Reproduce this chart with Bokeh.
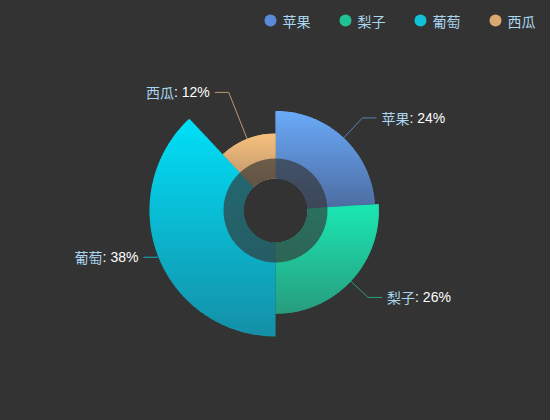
import math
import numpy as np
from bokeh.plotting import figure
from bokeh.models import Range1d
from bokeh.core.properties import value
from bokeh.embed import file_html
from bokeh.resources import INLINE

# ---- data ----
names = ["苹果", "梨子", "葡萄", "西瓜"]
values = [24, 26, 38, 12]
top_colors = ["#6aaaf9", "#1ae8b3", "#00e0f8", "#f8c27e"]
bottom_colors = ["#4d6ca0", "#289c7d", "#148fa6", "#b8916a"]
legend_colors = ["#5b8bd8", "#21c193", "#12c2d9", "#dba86f"]
line_colors = ["#5a7fb8", "#2a9f80", "#14adc6", "#b8996f"]

# ---- layout constants ----
W, H = 550, 420
CX, CY = 275, 210
R_BASE, R_MAX = 54.4, 126.0
HOLE, RING = 32.0, 52.0
BG = "#333333"
NAME_COLOR = "#a9d5ee"
FS = 14

p = figure(width=W, height=H,
           x_range=Range1d(0, W),
           y_range=Range1d(H, 0),
           output_backend="svg", toolbar_location=None,
           x_axis_location=None, y_axis_location=None, min_border=0)
p.grid.visible = False
p.outline_line_color = None
p.background_fill_color = BG
p.border_fill_color = BG


def hex2rgb(h):
    h = h.lstrip("#")
    return [int(h[i:i + 2], 16) for i in (0, 2, 4)]


def mix(c0, c1, t):
    a, b = hex2rgb(c0), hex2rgb(c1)
    return "#%02x%02x%02x" % tuple(int(round(a[i] + (b[i] - a[i]) * t)) for i in range(3))


def clip(poly, yv, keep_ge):
    out = []
    n = len(poly)
    for i in range(n):
        x1, y1 = poly[i]
        x2, y2 = poly[(i + 1) % n]
        in1 = (y1 >= yv) if keep_ge else (y1 <= yv)
        in2 = (y2 >= yv) if keep_ge else (y2 <= yv)
        if in1:
            out.append((x1, y1))
        if in1 != in2:
            t = (yv - y1) / (y2 - y1)
            out.append((x1 + (x2 - x1) * t, yv))
    return out


def pt(r, a):
    return (CX + r * math.sin(a), CY - r * math.cos(a))


total = float(sum(values))
vmax = max(values)
radii = [R_BASE + (R_MAX - R_BASE) * v / vmax for v in values]

xs, ys, fills = [], [], []
mids = []
start = 0.0
NB = 70
for i, v in enumerate(values):
    span = 2 * math.pi * v / total
    a0, a1 = start, start + span
    mids.append((a0 + a1) / 2)
    ts = np.linspace(a0, a1, 160)
    poly = [pt(radii[i], t) for t in ts] + [pt(HOLE, t) for t in ts[::-1]]
    ymin = min(q[1] for q in poly)
    ymax = max(q[1] for q in poly)
    h = (ymax - ymin) / NB
    for k in range(NB):
        y0 = ymin + k * h
        y1 = min(y0 + h + 0.8, ymax)
        band = clip(clip(poly, y0, True), y1, False)
        if len(band) < 3:
            continue
        xs.append([q[0] for q in band])
        ys.append([q[1] for q in band])
        fills.append(mix(top_colors[i], bottom_colors[i], (k + 0.5) / NB))
    start = a1

p.patches(xs, ys, fill_color=fills, line_color=None)

# dark translucent inner ring
p.annulus(x=[CX], y=[CY], inner_radius=HOLE, outer_radius=RING,
          fill_color=BG, fill_alpha=0.66, line_color=None)

# ---- labels ----
ELBOW_R = R_MAX + 1
L2 = 14
GAP = 5
helv = {":": 0.278, " ": 0.278, "%": 0.889}
lx, ly, lc = [], [], []
for i, a in enumerate(mids):
    ex, ey = pt(radii[i], a)
    bx, by = pt(ELBOW_R, a)
    right = math.sin(a) >= 0
    endx = bx + L2 if right else bx - L2
    lx.append([ex, bx, endx])
    ly.append([ey, by, by])
    lc.append(line_colors[i])
    pct = "%d%%" % round(values[i] / total * 100)
    rest = ": " + pct
    rest_w = sum(helv.get(ch, 0.556) for ch in rest) * FS
    name_w = len(names[i]) * FS
    if right:
        tx = endx + GAP
    else:
        tx = endx - GAP - rest_w - name_w
    p.text(x=[tx], y=[by], text=[names[i]], text_font=value("Noto Sans CJK SC"),
           text_font_size="%dpx" % FS, text_color=NAME_COLOR,
           text_align="left", text_baseline="middle")
    p.text(x=[tx + name_w], y=[by], text=[rest], text_font=value("Liberation Sans"),
           text_font_size="%dpx" % FS, text_color="#ffffff",
           text_align="left", text_baseline="middle")

p.multi_line(lx, ly, line_color=lc, line_width=1)

# ---- legend ----
LEG_X0, LEG_STEP, LEG_Y = 270, 75, 20
leg_x = [LEG_X0 + i * LEG_STEP for i in range(len(names))]
p.scatter(x=leg_x, y=[LEG_Y] * len(names), size=12, marker="circle",
          fill_color=legend_colors, line_color=None)
p.text(x=[x + 12 for x in leg_x], y=[LEG_Y] * len(names), text=names,
       text_font=value("Noto Sans CJK SC"), text_font_size="14px",
       text_color=NAME_COLOR, text_align="left", text_baseline="middle")

html = file_html(p, INLINE)
html = html.replace("<body>", '<body style="background-color:#333333;">')
open("out.html", "w").write(html)
